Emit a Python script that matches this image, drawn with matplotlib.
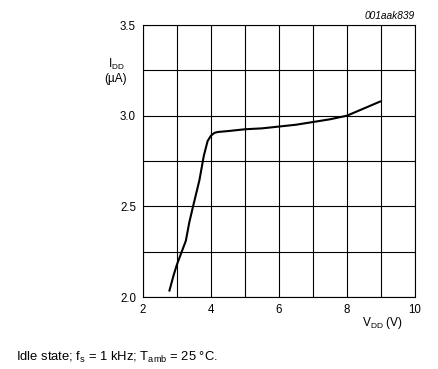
import matplotlib
matplotlib.use('Agg')
import matplotlib.pyplot as plt

# supply voltage (V) vs idle supply current (uA)
vdd = [2.77, 2.9, 3.0, 3.14, 3.26, 3.36, 3.46, 3.66, 3.79, 3.9, 4.0, 4.1, 4.2,
       4.5, 5.0, 5.5, 6.0, 6.5, 7.0, 7.5, 8.0, 8.5, 9.0]
idd = [2.03, 2.12, 2.18, 2.25, 2.31, 2.41, 2.49, 2.645, 2.78, 2.86, 2.89, 2.905, 2.91,
       2.915, 2.925, 2.93, 2.94, 2.95, 2.965, 2.98, 3.0, 3.04, 3.08]

xticks = [2, 4, 6, 8, 10]
yticks = [2.0, 2.5, 3.0, 3.5]

plt.rcParams['font.family'] = ['Liberation Sans', 'DejaVu Sans']

fig = plt.figure(figsize=(4.38, 3.69), dpi=100)
ax = fig.add_axes([143 / 438, 1 - 297 / 369, 272 / 438, 272 / 369])

ax.plot(vdd, idd, color='black', lw=1.5, solid_capstyle='butt')

ax.set_xlim(2, 10)
ax.set_ylim(2.0, 3.5)
ax.set_xticks(xticks)
ax.set_xticklabels([str(t) for t in xticks])
ax.set_yticks(yticks)
ax.set_yticklabels(['%.1f' % t for t in yticks])
ax.set_xticks(range(2, 11), minor=True)
ax.set_yticks([2.0 + 0.25 * i for i in range(7)], minor=True)
ax.grid(True, which='both', color='black', lw=0.8)
ax.tick_params(which='both', length=0, labelsize=8.3, pad=5)
for s in ax.spines.values():
    s.set_linewidth(0.8)

fig.text(415 / 438, 1 - 16 / 369, '001aak839', ha='right', va='center',
         fontsize=7.3, style='italic')
fig.text(116 / 438, 1 - 71 / 369, '$\\mathregular{I_{DD}}$\n(\u00b5A)', ha='center',
         va='center', fontsize=8.5, linespacing=1.05)
fig.text(382 / 438, 1 - 323 / 369, '$\\mathregular{V_{DD}}$ (V)', ha='center',
         va='center', fontsize=8.6)
fig.text(16 / 438, 1 - 357 / 369,
         'Idle state; $\\mathregular{f_s}$ = 1 kHz; $\\mathregular{T_{amb}}$ = 25 \u00b0C.',
         ha='left', va='center', fontsize=9.4)

fig.savefig('out.png', dpi=100)
